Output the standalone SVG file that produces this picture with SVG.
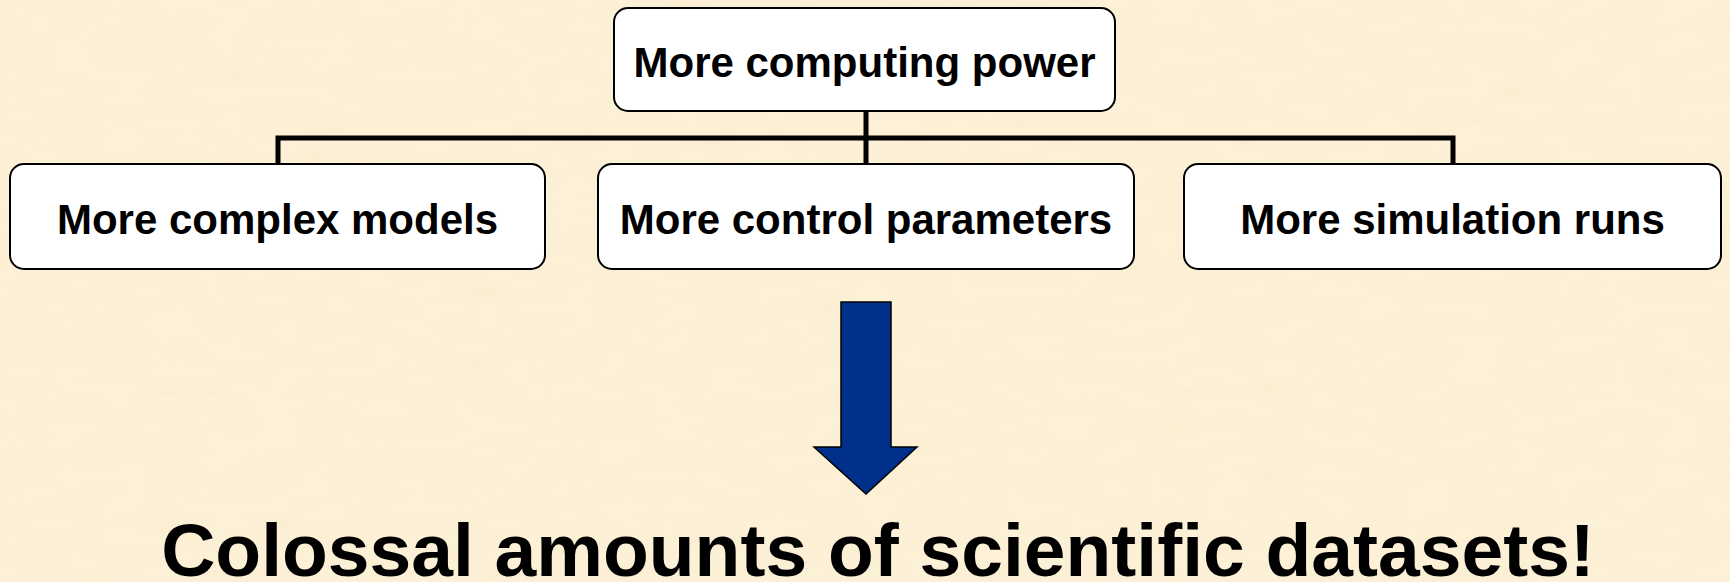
<svg xmlns="http://www.w3.org/2000/svg" width="1730" height="582" viewBox="0 0 1730 582">
  <style>
    .box { fill: #ffffff; stroke: #000000; stroke-width: 2; }
    .lbl { font-family: "Liberation Sans", Arial, sans-serif; font-weight: bold; font-size: 42px; fill: #000000; text-anchor: middle; }
    .big { font-family: "Liberation Sans", Arial, sans-serif; font-weight: bold; font-size: 75px; fill: #000000; text-anchor: middle; }
    .conn { fill: none; stroke: #000000; stroke-width: 5; stroke-linecap: butt; stroke-linejoin: miter; }
  </style>
  <defs>
    <filter id="paper" x="0" y="0" width="100%" height="100%">
      <feTurbulence type="fractalNoise" baseFrequency="0.02 0.06" numOctaves="3" seed="7" result="n"/>
      <feColorMatrix in="n" type="matrix" values="0 0 0 0 0.93  0 0 0 0 0.80  0 0 0 0 0.58  0 0 0 1.6 -0.75"/>
    </filter>
  </defs>
  <rect x="0" y="0" width="1730" height="582" fill="#fcf0d6"/>
  <rect x="0" y="0" width="1730" height="582" filter="url(#paper)" opacity="0.4"/>

  <g id="connectors">
    <path class="conn" d="M866 111 V163"/>
    <path class="conn" d="M278 163 V138 H1453 V163"/>
  </g>

  <g id="node-computing-power">
    <rect class="box" x="614" y="8" width="501" height="103" rx="14" ry="14"/>
    <text class="lbl" x="864.5" y="77">More computing power</text>
  </g>
  <g id="node-complex-models">
    <rect class="box" x="10" y="164" width="535" height="105" rx="14" ry="14"/>
    <text class="lbl" x="277.5" y="234">More complex models</text>
  </g>
  <g id="node-control-parameters">
    <rect class="box" x="598" y="164" width="536" height="105" rx="14" ry="14"/>
    <text class="lbl" x="866" y="234">More control parameters</text>
  </g>
  <g id="node-simulation-runs">
    <rect class="box" x="1184" y="164" width="537" height="105" rx="14" ry="14"/>
    <text class="lbl" x="1452.5" y="234">More simulation runs</text>
  </g>

  <g id="big-arrow">
    <polygon points="841,302 891,302 891,447 917,447 866,494 814,447 841,447" fill="#00308a" stroke="#000000" stroke-width="1.5" stroke-linejoin="miter"/>
  </g>

  <g id="conclusion">
    <text class="big" x="878" y="576">Colossal amounts of scientific datasets!</text>
  </g>
</svg>
